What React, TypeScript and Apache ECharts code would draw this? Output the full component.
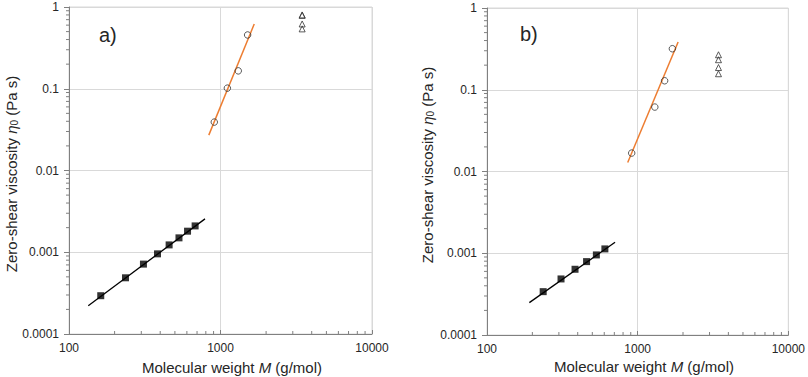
import React, { useEffect, useRef } from "react";
import * as echarts from "echarts";

// ---- Data ----
// Panel a)
const squaresA_M = [162, 236, 310, 384, 458, 532, 606, 680];
const squaresA_eta = [0.000294, 0.000487, 0.000716, 0.000956, 0.00123, 0.0015, 0.00181, 0.0021];
const circlesA_M = [910, 1110, 1310, 1510];
const circlesA_eta = [0.0391, 0.1017, 0.1655, 0.455];
const trianglesA_M = [3460, 3460, 3460, 3460];
const trianglesA_eta = [0.79, 0.8, 0.62, 0.54];
const fitBlackA_M = [134, 790];
const fitBlackA_eta = [0.000222, 0.00256];
const fitOrangeA_M = [837, 1670];
const fitOrangeA_eta = [0.0271, 0.62];

// Panel b)
const squaresB_M = [236, 310, 384, 458, 532, 606];
const squaresB_eta = [0.000339, 0.000485, 0.000637, 0.00079, 0.000954, 0.00113];
const circlesB_M = [913, 1300, 1510, 1700];
const circlesB_eta = [0.0168, 0.0614, 0.1288, 0.3175];
const trianglesB_M = [3440, 3440, 3440, 3440];
const trianglesB_eta = [0.268, 0.233, 0.187, 0.157];
const fitBlackB_M = [191, 708];
const fitBlackB_eta = [0.000249, 0.001364];
const fitOrangeB_M = [859, 1856];
const fitOrangeB_eta = [0.01288, 0.3835];

// Tick labels
const xTickLabels = ["100", "1000", "10000"];
const yTickLabels = ["0.0001", "0.001", "0.01", "0.1", "1"];
const xDecades = [100, 1000];
const yDecades = [0.0001, 0.001, 0.01, 0.1];
const minorMultipliers = [2, 3, 4, 5, 6, 7, 8, 9];

const FONT = "'Liberation Sans', Arial, sans-serif";
const TEXT = "#262626";
const AXIS = "#808080";
const GRID = "#d9d9d9";
const ORANGE = "#ED7D31";

const zip = (a: number[], b: number[]) => a.map((v, i) => [v, b[i]]);

export default function App() {
  const ref = useRef<HTMLDivElement>(null);
  useEffect(() => {
    document.body.style.margin = "0";
    const chart = echarts.init(ref.current!, null, { renderer: "svg" });

    const grids = [
      { left: 69, top: 7, width: 303, height: 327 },
      { left: 487, top: 8, width: 303, height: 327 },
    ];

    const xAxes = grids.map((_, i) => ({
      type: "log",
      gridIndex: i,
      min: 100,
      max: 10000,
      logBase: 10,
      axisLine: { show: true, onZero: false, lineStyle: { color: AXIS, width: 1 } },
      axisTick: { show: true, inside: true, length: 4, lineStyle: { color: AXIS } },
      splitLine: { show: true, lineStyle: { color: GRID, width: 1 } },
      axisLabel: {
        fontFamily: FONT,
        fontSize: 12,
        color: TEXT,
        margin: 8,
        formatter: (v: number) => xTickLabels[Math.round(Math.log10(v)) - 2] ?? "",
      },
    }));

    const yAxes = grids.map((_, i) => ({
      type: "log",
      gridIndex: i,
      min: 0.0001,
      max: 1,
      logBase: 10,
      axisLine: { show: true, onZero: false, lineStyle: { color: AXIS, width: 1 } },
      axisTick: { show: true, inside: false, length: 5, lineStyle: { color: AXIS } },
      splitLine: { show: true, lineStyle: { color: GRID, width: 1 } },
      axisLabel: {
        fontFamily: FONT,
        fontSize: 12,
        color: TEXT,
        margin: 10,
        formatter: (v: number) => yTickLabels[Math.round(Math.log10(v)) + 4] ?? "",
      },
    }));

    const minorData: number[][] = [];
    xDecades.forEach((d) => minorMultipliers.forEach((m) => minorData.push([d * m, 0.0001, 0])));
    yDecades.forEach((d) => minorMultipliers.forEach((m) => minorData.push([100, d * m, 1])));

    const minorSeries = (i: number) => ({
      type: "custom",
      xAxisIndex: i,
      yAxisIndex: i,
      silent: true,
      clip: false,
      z: 5,
      encode: { x: 0, y: 1 },
      data: minorData,
      renderItem: (params: any, api: any) => {
        const p = api.coord([api.value(0), api.value(1)]);
        const t = api.value(2);
        const shape =
          t === 0
            ? { x1: p[0], y1: p[1], x2: p[0], y2: p[1] - 3 }
            : { x1: p[0] - 3, y1: p[1], x2: p[0], y2: p[1] };
        return { type: "line", shape, style: { stroke: AXIS, lineWidth: 1 } };
      },
    });

    const panelSeries = (
      i: number,
      sqM: number[], sqE: number[],
      ciM: number[], ciE: number[],
      trM: number[], trE: number[],
      fbM: number[], fbE: number[],
      foM: number[], foE: number[]
    ) => [
      {
        type: "line",
        xAxisIndex: i,
        yAxisIndex: i,
        data: zip(fbM, fbE),
        showSymbol: false,
        symbol: "none",
        lineStyle: { color: "#000", width: 1.3 },
        z: 3,
      },
      {
        type: "line",
        xAxisIndex: i,
        yAxisIndex: i,
        data: zip(foM, foE),
        showSymbol: false,
        symbol: "none",
        lineStyle: { color: ORANGE, width: 1.5 },
        z: 3,
      },
      {
        type: "scatter",
        xAxisIndex: i,
        yAxisIndex: i,
        data: zip(sqM, sqE),
        symbol: "rect",
        symbolSize: 7,
        itemStyle: { color: "#000" },
        z: 4,
      },
      {
        type: "scatter",
        xAxisIndex: i,
        yAxisIndex: i,
        data: zip(ciM, ciE),
        symbol: "circle",
        symbolSize: 6.5,
        itemStyle: { color: "rgba(255,255,255,0)", borderColor: "#333", borderWidth: 1 },
        z: 4,
      },
      {
        type: "scatter",
        xAxisIndex: i,
        yAxisIndex: i,
        data: zip(trM, trE),
        symbol: "triangle",
        symbolSize: 6,
        itemStyle: { color: "rgba(255,255,255,0)", borderColor: "#333", borderWidth: 1 },
        z: 4,
      },
      minorSeries(i),
    ];

    const rich = {
      i: { fontFamily: FONT, fontSize: 15, fontStyle: "italic", fill: TEXT, color: TEXT },
      s: { fontFamily: FONT, fontSize: 10, fill: TEXT, color: TEXT, verticalAlign: "bottom", padding: [6, 0, 0, 0] },
    };

    const textEl = (x: number, y: number, text: string, fontSize: number, rotation = 0, align = "center") => ({
      type: "text",
      x,
      y,
      rotation,
      silent: true,
      style: {
        text,
        fontFamily: FONT,
        fontSize,
        fill: TEXT,
        align,
        verticalAlign: "middle",
        rich,
      },
    });

    const option: any = {
      animation: false,
      backgroundColor: "#fff",
      grid: grids.map((g) => ({ ...g, show: true, borderColor: GRID, borderWidth: 1, backgroundColor: "transparent" })),
      xAxis: xAxes,
      yAxis: yAxes,
      series: [
        ...panelSeries(0, squaresA_M, squaresA_eta, circlesA_M, circlesA_eta, trianglesA_M, trianglesA_eta,
          fitBlackA_M, fitBlackA_eta, fitOrangeA_M, fitOrangeA_eta),
        ...panelSeries(1, squaresB_M, squaresB_eta, circlesB_M, circlesB_eta, trianglesB_M, trianglesB_eta,
          fitBlackB_M, fitBlackB_eta, fitOrangeB_M, fitOrangeB_eta),
      ],
      graphic: [
        textEl(99, 35, "a)", 20, 0, "left"),
        textEl(520, 34, "b)", 20, 0, "left"),
        textEl(232, 367, "Molecular weight {i|M} (g/mol)", 15),
        textEl(644, 366, "Molecular weight {i|M} (g/mol)", 15),
        textEl(11, 174, "Zero-shear viscosity {i|η}{s|0} (Pa s)", 15, Math.PI / 2),
        textEl(427, 165, "Zero-shear viscosity {i|η}{s|0} (Pa s)", 15, Math.PI / 2),
      ],
    };

    chart.setOption(option);
    return () => chart.dispose();
  }, []);

  return <div ref={ref} style={{ width: 808, height: 377 }} />;
}
